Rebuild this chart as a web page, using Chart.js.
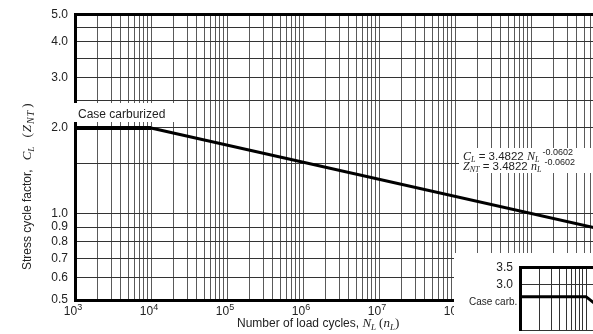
<!DOCTYPE html>
<html>
<head>
<meta charset="utf-8">
<script src="https://cdn.jsdelivr.net/npm/chart.js@4.4.1/dist/chart.umd.min.js"></script>
<style>
  html, body { margin: 0; padding: 0; background: #fff; overflow: hidden; }
  #wrap { position: relative; width: 593px; height: 334px; overflow: hidden; }
  #main { position: absolute; left: 0; top: 0; }
  #inset { position: absolute; left: 454px; top: 253px; background: #fff; }
</style>
</head>
<body>
<div id="wrap">
  <canvas id="main" width="610" height="334"></canvas>
  <canvas id="inset" width="200" height="92"></canvas>
</div>
<script>
// Stress cycle factor vs. number of load cycles (log-log)
const loadCycles = [1e3, 1e4, 1e10];
const stressFactor = [2.0, 2.0, 0.875];

const xDecades = [3, 4, 5, 6, 7, 8, 9, 10];
const xTickBase = '10';
const xTickExponents = ['3', '4', '5', '6', '7', '8', '9'];
const yGridValues = [0.5, 0.6, 0.7, 0.8, 0.9, 1.0, 1.5, 2.0, 2.5, 3.0, 3.5, 4.0, 4.5, 5.0];
const yTickLabels = [0.5, 0.6, 0.7, 0.8, 0.9, 1.0, 2.0, 3.0, 4.0, 5.0];

// overlapping piece of the next figure (bottom right corner)
const insetCycles = [1e3, 1e4, 3e4];
const insetFactor = [2.7, 2.7, 2.17];
const insetDecades = [3, 4, 5];
const insetGridValues = [2.0, 3.0, 3.5];
const insetTickLabels = [3.0, 3.5];

const SANS = '"Liberation Sans", Arial, Helvetica, sans-serif';
const SERIF = '"Liberation Serif", "Times New Roman", serif';
const TEXT = '#222';

// gridline positions 1..9 x 10^e for each decade
function logGrid(decades) {
    const vals = [];
    for (let i = 0; i < decades.length - 1; i++) {
        for (let k = 1; k <= 9; k++) vals.push(k * Math.pow(10, decades[i]));
    }
    vals.push(Math.pow(10, decades[decades.length - 1]));
    return vals;
}

// draws a row of text pieces (for subscripts / italics)
function runsWidth(ctx, runs) {
    let w = 0;
    for (const r of runs) {
        ctx.font = r.font;
        w += ctx.measureText(r.text).width + (r.gap || 0);
    }
    return w;
}
function drawRuns(ctx, runs, x, y) {
    for (const r of runs) {
        ctx.font = r.font;
        ctx.fillText(r.text, x, y + (r.dy || 0));
        x += ctx.measureText(r.text).width + (r.gap || 0);
    }
}

const xGrid = logGrid(xDecades);
const xDecadeValues = xDecades.map(e => Math.pow(10, e));

const annotations = {
    id: 'annotations',
    afterDraw(chart) {
        const ctx = chart.ctx;
        ctx.save();
        ctx.fillStyle = '#fff';
        ctx.fillRect(72, 103, 102, 19);
        ctx.fillRect(459, 148, 150, 25);

        ctx.fillStyle = TEXT;
        ctx.textBaseline = 'alphabetic';
        ctx.textAlign = 'left';
        ctx.font = `12px ${SANS}`;
        ctx.fillText('Case carburized', 78, 118);

        // x tick labels with raised exponent
        const xs = chart.scales.x;
        xTickExponents.forEach((exp, i) => {
            const runs = [
                { text: xTickBase, font: `12px ${SANS}` },
                { text: exp, font: `9px ${SANS}`, dy: -5 }
            ];
            const w = runsWidth(ctx, runs);
            const px = xs.getPixelForValue(xDecadeValues[i]);
            drawRuns(ctx, runs, px - w / 2 - 2, 315);
        });

        // equations
        drawRuns(ctx, [
            { text: 'C', font: `italic 12px ${SERIF}` },
            { text: 'L', font: `italic 8px ${SERIF}`, dy: 2 },
            { text: ' = 3.4822 ', font: `11.5px ${SANS}` },
            { text: 'N', font: `italic 12px ${SERIF}` },
            { text: 'L', font: `italic 8px ${SERIF}`, dy: 2, gap: 3 },
            { text: '-0.0602', font: `9px ${SANS}`, dy: -5 }
        ], 463, 160);
        drawRuns(ctx, [
            { text: 'Z', font: `italic 12px ${SERIF}` },
            { text: 'NT', font: `italic 8px ${SERIF}`, dy: 2 },
            { text: ' = 3.4822 ', font: `11.5px ${SANS}` },
            { text: 'n', font: `italic 12px ${SERIF}` },
            { text: 'L', font: `italic 8px ${SERIF}`, dy: 2, gap: 3 },
            { text: '-0.0602', font: `9px ${SANS}`, dy: -5 }
        ], 463, 170);

        // x axis title
        drawRuns(ctx, [
            { text: 'Number of load cycles, ', font: `12px ${SANS}` },
            { text: 'N', font: `italic 13px ${SERIF}` },
            { text: 'L', font: `italic 9px ${SERIF}`, dy: 3, gap: 3 },
            { text: '(', font: `13px ${SERIF}` },
            { text: 'n', font: `italic 13px ${SERIF}` },
            { text: 'L', font: `italic 9px ${SERIF}`, dy: 3 },
            { text: ')', font: `13px ${SERIF}` }
        ], 237, 327);

        // y axis title, rotated
        ctx.translate(31, 270);
        ctx.rotate(-Math.PI / 2);
        drawRuns(ctx, [
            { text: 'Stress cycle factor,', font: `12px ${SANS}`, gap: 9 },
            { text: 'C', font: `italic 13px ${SERIF}` },
            { text: 'L', font: `italic 9px ${SERIF}`, dy: 3, gap: 9 },
            { text: '(', font: `13px ${SERIF}`, gap: 1 },
            { text: 'Z', font: `italic 13px ${SERIF}`, gap: 1 },
            { text: 'N', font: `italic 10px ${SERIF}`, dy: 3, gap: 1 },
            { text: 'T', font: `italic 10px ${SERIF}`, dy: 3, gap: 3 },
            { text: ')', font: `13px ${SERIF}` }
        ], 0, 0);
        ctx.restore();
    }
};

new Chart(document.getElementById('main'), {
    type: 'line',
    data: {
        datasets: [{
            data: loadCycles.map((x, i) => ({ x: x, y: stressFactor[i] })),
            borderColor: '#000',
            borderWidth: 3,
            pointRadius: 0,
            tension: 0,
            segment: { borderWidth: c => c.p0DataIndex === 0 ? 4 : 3 }
        }]
    },
    options: {
        responsive: false,
        animation: false,
        layout: { padding: { left: 0, right: 3, top: 8, bottom: 0 } },
        plugins: { legend: { display: false }, tooltip: { enabled: false } },
        scales: {
            x: {
                type: 'logarithmic',
                min: 1e3,
                max: 1e10,
                afterBuildTicks: s => { s.ticks = xGrid.map(v => ({ value: v })); },
                afterFit: s => { s.height = 34; },
                border: { color: '#000', width: 3 },
                grid: { color: '#5a5a5a', lineWidth: 1, drawTicks: false },
                ticks: { autoSkip: false, maxRotation: 0, minRotation: 0, callback: () => '' }
            },
            y: {
                type: 'logarithmic',
                min: 0.5,
                max: 5.0,
                afterBuildTicks: s => { s.ticks = yGridValues.map(v => ({ value: v })); },
                afterFit: s => { s.width = 75; },
                border: { color: '#000', width: 3 },
                grid: {
                    drawTicks: false,
                    color: c => c.tick && c.tick.value === 5 ? '#000' : '#333',
                    lineWidth: c => c.tick && c.tick.value === 5 ? 3 : 1
                },
                ticks: {
                    autoSkip: false,
                    padding: 7,
                    color: TEXT,
                    font: { family: SANS, size: 12 },
                    callback: v => yTickLabels.includes(v) ? v.toFixed(1) : ''
                }
            }
        }
    },
    plugins: [annotations]
});

// inset chart
const insetGrid = logGrid(insetDecades);

const insetText = {
    id: 'insetText',
    afterDraw(chart) {
        const ctx = chart.ctx;
        ctx.save();
        ctx.fillStyle = TEXT;
        ctx.font = `10px ${SANS}`;
        ctx.fillText('Case carb.', 15, 52);
        ctx.restore();
    }
};

new Chart(document.getElementById('inset'), {
    type: 'line',
    data: {
        datasets: [{
            data: insetCycles.map((x, i) => ({ x: x, y: insetFactor[i] })),
            borderColor: '#000',
            borderWidth: 3,
            pointRadius: 0,
            tension: 0
        }]
    },
    options: {
        responsive: false,
        animation: false,
        layout: { padding: { left: 0, right: 2, top: 12, bottom: 0 } },
        plugins: { legend: { display: false }, tooltip: { enabled: false } },
        scales: {
            x: {
                type: 'logarithmic',
                min: 1e3,
                max: 1e5,
                afterBuildTicks: s => { s.ticks = insetGrid.map(v => ({ value: v })); },
                afterFit: s => { s.height = 0; },
                border: { display: false },
                grid: { color: '#333', lineWidth: 1, drawTicks: false },
                ticks: { display: false, autoSkip: false }
            },
            y: {
                type: 'logarithmic',
                min: 2.0,
                max: 3.5,
                afterBuildTicks: s => { s.ticks = insetGridValues.map(v => ({ value: v })); },
                afterFit: s => { s.width = 66; },
                border: { color: '#000', width: 3 },
                grid: {
                    drawTicks: false,
                    color: c => c.tick && c.tick.value === 3.5 ? '#000' : '#333',
                    lineWidth: c => c.tick && c.tick.value === 3.5 ? 3 : 1
                },
                ticks: {
                    autoSkip: false,
                    padding: 7,
                    color: TEXT,
                    font: { family: SANS, size: 12 },
                    callback: v => insetTickLabels.includes(v) ? v.toFixed(1) : ''
                }
            }
        }
    },
    plugins: [insetText]
});
</script>
</body>
</html>
